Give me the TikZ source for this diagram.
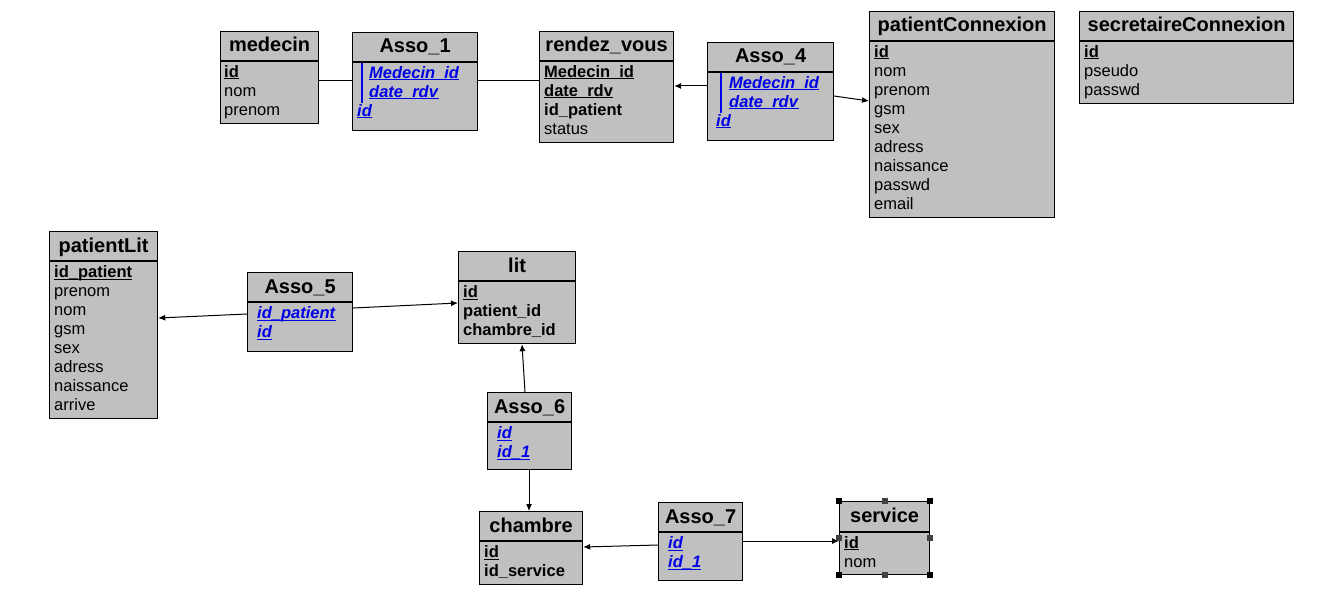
\documentclass[tikz,border=0pt]{standalone}
\usepackage{fontspec}
\setmainfont{Liberation Sans}
\usetikzlibrary{arrows.meta,positioning}
\definecolor{tblgray}{RGB}{192,192,192}
\definecolor{fkblue}{RGB}{0,0,230}
\definecolor{hdlgray}{RGB}{64,64,64}
\newcommand{\undl}[1]{\setbox0\hbox{#1}\rlap{\rule[-2pt]{\wd0}{1pt}}\box0}
\newcommand{\pkey}[1]{\textbf{\undl{#1}}}
\newcommand{\fkey}[1]{\textcolor{fkblue}{\undl{\textbf{\textit{#1}}}}}

\begin{document}
\begin{tikzpicture}[x=1pt, y=-1pt,
  tbl/.style={draw=black, line width=1.2pt, fill=tblgray, inner sep=0pt, anchor=north west},
  ttl/.style={anchor=base, inner sep=0pt, font=\fontsize{20}{24}\selectfont\bfseries},
  fld/.style={anchor=base west, inner sep=0pt, font=\fontsize{16.5}{19}\selectfont},
  sep/.style={line width=1.2pt},
  fkbar/.style={fkblue, line width=1.6pt},
  link/.style={line width=1pt},
  arr/.style={link, -{Latex[length=7pt,width=6pt]}},
  handle/.style={inner sep=0pt, minimum size=6pt}]
\useasboundingbox (0,0) rectangle (1329,615);

% medecin
\node[tbl, minimum width=98pt, minimum height=92pt] (medecin) at (220,31) {};
\draw[sep] ([yshift=-30pt]medecin.north west) -- ([yshift=-30pt]medecin.north east);
\node[ttl] (medecinT) at ([yshift=-21pt]medecin.north) {medecin};
\node[fld] (medecin1) at ([xshift=4pt,yshift=-46.5pt]medecin.north west) {\pkey{id}};
\node[fld] (medecin2) at ([yshift=-19pt]medecin1.base west) {nom};
\node[fld] (medecin3) at ([yshift=-19pt]medecin2.base west) {prenom};

% Asso_1
\node[tbl, minimum width=125pt, minimum height=98pt] (asso1) at (352,32) {};
\draw[sep] ([yshift=-30pt]asso1.north west) -- ([yshift=-30pt]asso1.north east);
\node[ttl] (asso1T) at ([yshift=-21pt]asso1.north) {Asso\_1};
\draw[fkbar] ([xshift=10pt,yshift=-31pt]asso1.north west) -- ([xshift=10pt,yshift=-71pt]asso1.north west);
\node[fld] (asso1a) at ([xshift=17pt,yshift=-46.5pt]asso1.north west) {\fkey{Medecin\_id}};
\node[fld] (asso1b) at ([yshift=-19pt]asso1a.base west) {\fkey{date\_rdv}};
\node[fld] (asso1c) at ([xshift=5pt,yshift=-84.5pt]asso1.north west) {\fkey{id}};

% rendez_vous
\node[tbl, minimum width=134pt, minimum height=111pt] (rendezvous) at (539,31) {};
\draw[sep] ([yshift=-30pt]rendezvous.north west) -- ([yshift=-30pt]rendezvous.north east);
\node[ttl] (rendezvousT) at ([yshift=-21pt]rendezvous.north) {rendez\_vous};
\node[fld] (rendezvous1) at ([xshift=5pt,yshift=-46.5pt]rendezvous.north west) {\pkey{Medecin\_id}};
\node[fld] (rendezvous2) at ([yshift=-19pt]rendezvous1.base west) {\pkey{date\_rdv}};
\node[fld] (rendezvous3) at ([yshift=-19pt]rendezvous2.base west) {\textbf{id\_patient}};
\node[fld] (rendezvous4) at ([yshift=-19pt]rendezvous3.base west) {status};

% Asso_4
\node[tbl, minimum width=126pt, minimum height=98pt] (asso4) at (707,42) {};
\draw[sep] ([yshift=-30pt]asso4.north west) -- ([yshift=-30pt]asso4.north east);
\node[ttl] (asso4T) at ([yshift=-21pt]asso4.north) {Asso\_4};
\draw[fkbar] ([xshift=14pt,yshift=-31pt]asso4.north west) -- ([xshift=14pt,yshift=-71pt]asso4.north west);
\node[fld] (asso4a) at ([xshift=22pt,yshift=-46.5pt]asso4.north west) {\fkey{Medecin\_id}};
\node[fld] (asso4b) at ([yshift=-19pt]asso4a.base west) {\fkey{date\_rdv}};
\node[fld] (asso4c) at ([xshift=9pt,yshift=-84.5pt]asso4.north west) {\fkey{id}};

% patientConnexion
\node[tbl, minimum width=185pt, minimum height=206pt] (patientConnexion) at (869,11) {};
\draw[sep] ([yshift=-30pt]patientConnexion.north west) -- ([yshift=-30pt]patientConnexion.north east);
\node[ttl] (patientConnexionT) at ([yshift=-21pt]patientConnexion.north) {patientConnexion};
\node[fld] (patientConnexion1) at ([xshift=5pt,yshift=-46.5pt]patientConnexion.north west) {\pkey{id}};
\node[fld] (patientConnexion2) at ([yshift=-19pt]patientConnexion1.base west) {nom};
\node[fld] (patientConnexion3) at ([yshift=-19pt]patientConnexion2.base west) {prenom};
\node[fld] (patientConnexion4) at ([yshift=-19pt]patientConnexion3.base west) {gsm};
\node[fld] (patientConnexion5) at ([yshift=-19pt]patientConnexion4.base west) {sex};
\node[fld] (patientConnexion6) at ([yshift=-19pt]patientConnexion5.base west) {adress};
\node[fld] (patientConnexion7) at ([yshift=-19pt]patientConnexion6.base west) {naissance};
\node[fld] (patientConnexion8) at ([yshift=-19pt]patientConnexion7.base west) {passwd};
\node[fld] (patientConnexion9) at ([yshift=-19pt]patientConnexion8.base west) {email};

% secretaireConnexion
\node[tbl, minimum width=214pt, minimum height=92pt] (secretaireConnexion) at (1079,11) {};
\draw[sep] ([yshift=-30pt]secretaireConnexion.north west) -- ([yshift=-30pt]secretaireConnexion.north east);
\node[ttl] (secretaireConnexionT) at ([yshift=-21pt]secretaireConnexion.north) {secretaireConnexion};
\node[fld] (secretaireConnexion1) at ([xshift=5pt,yshift=-46.5pt]secretaireConnexion.north west) {\pkey{id}};
\node[fld] (secretaireConnexion2) at ([yshift=-19pt]secretaireConnexion1.base west) {pseudo};
\node[fld] (secretaireConnexion3) at ([yshift=-19pt]secretaireConnexion2.base west) {passwd};

% patientLit
\node[tbl, minimum width=108pt, minimum height=187pt] (patientLit) at (49,231) {};
\draw[sep] ([yshift=-30pt]patientLit.north west) -- ([yshift=-30pt]patientLit.north east);
\node[ttl] (patientLitT) at ([yshift=-21pt]patientLit.north) {patientLit};
\node[fld] (patientLit1) at ([xshift=5pt,yshift=-46.5pt]patientLit.north west) {\pkey{id\_patient}};
\node[fld] (patientLit2) at ([yshift=-19pt]patientLit1.base west) {prenom};
\node[fld] (patientLit3) at ([yshift=-19pt]patientLit2.base west) {nom};
\node[fld] (patientLit4) at ([yshift=-19pt]patientLit3.base west) {gsm};
\node[fld] (patientLit5) at ([yshift=-19pt]patientLit4.base west) {sex};
\node[fld] (patientLit6) at ([yshift=-19pt]patientLit5.base west) {adress};
\node[fld] (patientLit7) at ([yshift=-19pt]patientLit6.base west) {naissance};
\node[fld] (patientLit8) at ([yshift=-19pt]patientLit7.base west) {arrive};

% Asso_5
\node[tbl, minimum width=105pt, minimum height=79pt] (asso5) at (247,272) {};
\draw[sep] ([yshift=-30pt]asso5.north west) -- ([yshift=-30pt]asso5.north east);
\node[ttl] (asso5T) at ([yshift=-21pt]asso5.north) {Asso\_5};
\node[fld] (asso5a) at ([xshift=10pt,yshift=-46.5pt]asso5.north west) {\fkey{id\_patient}};
\node[fld] (asso5b) at ([yshift=-19pt]asso5a.base west) {\fkey{id}};

% lit
\node[tbl, minimum width=117pt, minimum height=92pt] (lit) at (458,251) {};
\draw[sep] ([yshift=-30pt]lit.north west) -- ([yshift=-30pt]lit.north east);
\node[ttl] (litT) at ([yshift=-21pt]lit.north) {lit};
\node[fld] (lit1) at ([xshift=5pt,yshift=-46.5pt]lit.north west) {\pkey{id}};
\node[fld] (lit2) at ([yshift=-19pt]lit1.base west) {\textbf{patient\_id}};
\node[fld] (lit3) at ([yshift=-19pt]lit2.base west) {\textbf{chambre\_id}};

% Asso_6
\node[tbl, minimum width=84pt, minimum height=77pt] (asso6) at (487,392) {};
\draw[sep] ([yshift=-30pt]asso6.north west) -- ([yshift=-30pt]asso6.north east);
\node[ttl] (asso6T) at ([yshift=-21pt]asso6.north) {Asso\_6};
\node[fld] (asso6a) at ([xshift=10pt,yshift=-46.5pt]asso6.north west) {\fkey{id}};
\node[fld] (asso6b) at ([yshift=-19pt]asso6a.base west) {\fkey{id\_1}};

% chambre
\node[tbl, minimum width=103pt, minimum height=73pt] (chambre) at (479,511) {};
\draw[sep] ([yshift=-30pt]chambre.north west) -- ([yshift=-30pt]chambre.north east);
\node[ttl] (chambreT) at ([yshift=-21pt]chambre.north) {chambre};
\node[fld] (chambre1) at ([xshift=5pt,yshift=-46.5pt]chambre.north west) {\pkey{id}};
\node[fld] (chambre2) at ([yshift=-19pt]chambre1.base west) {\textbf{id\_service}};

% Asso_7
\node[tbl, minimum width=84pt, minimum height=78pt] (asso7) at (658,502) {};
\draw[sep] ([yshift=-30pt]asso7.north west) -- ([yshift=-30pt]asso7.north east);
\node[ttl] (asso7T) at ([yshift=-21pt]asso7.north) {Asso\_7};
\node[fld] (asso7a) at ([xshift=10pt,yshift=-46.5pt]asso7.north west) {\fkey{id}};
\node[fld] (asso7b) at ([yshift=-19pt]asso7a.base west) {\fkey{id\_1}};

% service
\node[tbl, minimum width=90pt, minimum height=73pt] (service) at (839,501) {};
\draw[sep] ([yshift=-31pt]service.north west) -- ([yshift=-31pt]service.north east);
\node[ttl] (serviceT) at ([yshift=-21pt]service.north) {service};
\node[fld] (service1) at ([xshift=5pt,yshift=-47pt]service.north west) {\pkey{id}};
\node[fld] (service2) at ([yshift=-19pt]service1.base west) {nom};

% links
\draw[link] ([yshift=-50pt]medecin.north east) -- ([yshift=-49pt]asso1.north west);
\draw[link] ([yshift=-49pt]asso1.north east) -- ([yshift=-50pt]rendezvous.north west);
\draw[arr] ([yshift=-44pt]asso4.north west) -- ([yshift=-55pt]rendezvous.north east);
\draw[arr] ([yshift=-54pt]asso4.north east) -- ([yshift=-90pt]patientConnexion.north west);
\draw[arr] ([yshift=-42pt]asso5.north west) -- ([yshift=-87pt]patientLit.north east);
\draw[arr] ([yshift=-36pt]asso5.north east) -- ([yshift=-52pt]lit.north west);
\draw[arr] ([xshift=38pt]asso6.north west) -- ([xshift=64pt]lit.south west);
\draw[arr] ([xshift=42pt]asso6.south west) -- ([xshift=50pt]chambre.north west);
\draw[arr] ([yshift=-43pt]asso7.north west) -- ([yshift=-36pt]chambre.north east);
\draw[arr] ([yshift=-39pt]asso7.north east) -- ([yshift=-40pt]service.north west);

% selection handles
\node[handle, fill=black] (serviceNW) at (service.north west) {};
\node[handle, fill=black] (serviceNE) at (service.north east) {};
\node[handle, fill=black] (serviceSW) at (service.south west) {};
\node[handle, fill=black] (serviceSE) at (service.south east) {};
\node[handle, fill=hdlgray] (serviceN) at (service.north) {};
\node[handle, fill=hdlgray] (serviceS) at (service.south) {};
\node[handle, fill=hdlgray] (serviceW) at (service.west) {};
\node[handle, fill=hdlgray] (serviceE) at (service.east) {};
\end{tikzpicture}
\end{document}
